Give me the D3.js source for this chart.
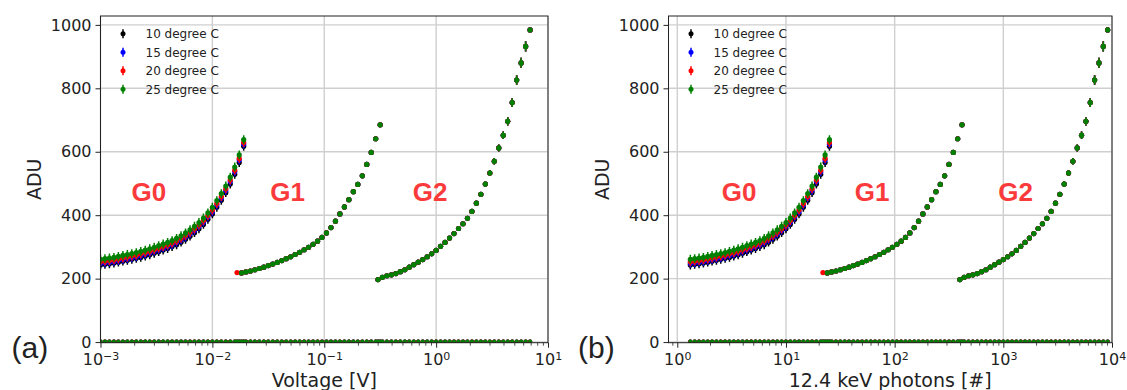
<!DOCTYPE html>
<html>
<head>
<meta charset="utf-8">
<script src="https://cdn.jsdelivr.net/npm/d3@7"></script>
<style>
  html, body { margin: 0; padding: 0; background: #fff; }
  svg { display: block; font-family: "DejaVu Sans", sans-serif; }
</style>
</head>
<body>
<svg id="chart" width="1127" height="390"></svg>
<script>
// ---- data ----
const temperatures = ["10 degree C", "15 degree C", "20 degree C", "25 degree C"];
const gains = ["G0", "G1", "G2"];

const yTicks = [0, 200, 400, 600, 800, 1000];
const voltTicks = [1e-3, 1e-2, 1e-1, 1, 10];
const photonTicks = [1, 10, 100, 1000, 10000];

// G0
const g0Volt = [0.001000, 0.001096, 0.001202, 0.001318, 0.001445, 0.001585, 0.001738, 0.001905, 0.002089, 0.002291,
  0.002512, 0.002754, 0.003020, 0.003311, 0.003631, 0.003981, 0.004365, 0.004786, 0.005248, 0.005754,
  0.006310, 0.006918, 0.007586, 0.008318, 0.009120, 0.01000, 0.01096, 0.01202, 0.01318, 0.01445,
  0.01585, 0.01738, 0.01905];
const g0Photons = [1.318, 1.445, 1.585, 1.738, 1.905, 2.089, 2.291, 2.512, 2.754, 3.020,
  3.311, 3.631, 3.981, 4.365, 4.786, 5.248, 5.754, 6.310, 6.918, 7.586,
  8.318, 9.120, 10.00, 10.96, 12.02, 13.18, 14.45, 15.85, 17.38, 19.05,
  20.89, 22.91, 25.12];
const g0Adu10 = [243, 245, 247, 249, 252, 255, 258, 261, 264, 267, 271, 275, 280, 285, 290, 295, 301,
  307, 315, 324, 334, 345, 357, 371, 387, 404, 425, 447, 471, 498, 529, 566, 617];
const g0Adu15 = [248, 250, 252, 254, 257, 260, 263, 266, 269, 273, 277, 281, 286, 291, 296, 301, 307,
  314, 322, 331, 341, 352, 364, 378, 394, 411, 432, 454, 478, 506, 537, 574, 624];
const g0Adu20 = [253, 255, 257, 259, 262, 265, 268, 271, 274, 278, 282, 286, 291, 296, 301, 306, 312,
  319, 327, 336, 346, 357, 369, 383, 399, 416, 437, 459, 483, 511, 542, 579, 629];
const g0Adu25 = [261, 263, 265, 267, 270, 273, 276, 279, 282, 286, 290, 294, 299, 304, 309, 314, 320,
  327, 335, 344, 354, 365, 377, 391, 407, 425, 446, 468, 492, 520, 552, 590, 638];
const g0ErrAdu = 14;

// G1 (first point only measured at 20 degree C)
const g1Volt = [0.01660, 0.01820, 0.01995, 0.02188, 0.02399, 0.02630, 0.02884, 0.03162, 0.03467, 0.03802,
  0.04169, 0.04571, 0.05012, 0.05495, 0.06026, 0.06607, 0.07244, 0.07943, 0.08710, 0.09550,
  0.1047, 0.1148, 0.1259, 0.1380, 0.1514, 0.1660, 0.1820, 0.1995, 0.2188, 0.2399,
  0.2630, 0.2884, 0.3162];
const g1Photons = [21.88, 23.99, 26.30, 28.84, 31.62, 34.67, 38.02, 41.69, 45.71, 50.12,
  54.95, 60.26, 66.07, 72.44, 79.43, 87.10, 95.50, 104.7, 114.8, 125.9,
  138.0, 151.4, 166.0, 182.0, 199.5, 218.8, 239.9, 263.0, 288.4, 316.2,
  346.7, 380.2, 416.9];
const g1Adu = [219, 218, 221, 224, 228, 232, 236, 241, 246, 251, 257, 263, 269, 276, 283, 291, 299,
  308, 318, 330, 344, 361, 381, 404, 426, 449, 474, 497, 524, 560, 598, 641, 685];
const g1Start = [1, 1, 0, 1];
const g1ErrAdu = 3;

// G2
const g2Volt = [0.3020, 0.3311, 0.3631, 0.3981, 0.4365, 0.4786, 0.5248, 0.5754, 0.6310, 0.6918,
  0.7586, 0.8318, 0.9120, 1.000, 1.096, 1.202, 1.318, 1.445, 1.585, 1.738,
  1.905, 2.089, 2.291, 2.512, 2.754, 3.020, 3.311, 3.631, 3.981, 4.365,
  4.786, 5.248, 5.754, 6.310, 6.918];
const g2Photons = [398.1, 436.5, 478.6, 524.8, 575.4, 631.0, 691.8, 758.6, 831.8, 912.0,
  1000, 1096, 1202, 1318, 1445, 1585, 1738, 1905, 2089, 2291,
  2512, 2754, 3020, 3311, 3631, 3981, 4365, 4786, 5248, 5754,
  6310, 6918, 7586, 8318, 9120];
const g2Adu = [197, 204, 209, 212, 216, 222, 228, 236, 244, 252, 260, 269, 278, 289, 302, 314, 328,
  342, 358, 373, 390, 412, 438, 466, 498, 533, 570, 612, 652, 696, 755, 826, 880, 932, 984];
const g2ErrAdu = [2, 2, 2, 2, 2, 2, 2, 2, 2, 2, 2, 2, 2, 3, 3, 3, 3, 3, 4, 4,
  5, 5, 6, 7, 8, 9, 10, 11, 12, 13, 14, 15, 16, 16, 3];

// dark/offset points lying on the axis, one level per gain
const zeroAdu = [1.5, 1.5, 1.5];

// gain annotations
const gainLabelVolt = [0.0027, 0.047, 0.885];
const gainLabelPhotons = [3.7, 62, 1300];
const gainLabelAdu = 445;

const g0Adu = [g0Adu10, g0Adu15, g0Adu20, g0Adu25];

// ---- styling / layout ----
const tempColors = ["#000000", "#0000ff", "#ff0000", "#008000"];
const gridColor = "#cfcfcf";
const inkColor = "#222";
const plotTop = 16, plotBottom = 342.7;
const aduDomain = [-2, 1028];

const panels = [
  { left: 100.5, right: 548, xDomain: [1e-3, 10], xTicks: voltTicks,
    xs: [g0Volt, g1Volt, g2Volt], labelX: gainLabelVolt,
    xLabel: "Voltage [V]", tag: "(a)", tagX: 11.5 },
  { left: 668.5, right: 1112, xDomain: [0.83, 1e4], xTicks: photonTicks,
    xs: [g0Photons, g1Photons, g2Photons], labelX: gainLabelPhotons,
    xLabel: "12.4 keV photons [#]", tag: "(b)", tagX: 578 }
];

const svg = d3.select("#chart");

function seriesPoints(xs, ti) {
  const pts = [];
  xs[0].forEach((v, i) => pts.push({ x: v, adu: g0Adu[ti][i], err: g0ErrAdu }));
  xs[1].forEach((v, i) => { if (i >= g1Start[ti]) pts.push({ x: v, adu: g1Adu[i], err: g1ErrAdu }); });
  xs[2].forEach((v, i) => pts.push({ x: v, adu: g2Adu[i], err: g2ErrAdu[i] }));
  return pts;
}

function baselinePoints(xs) {
  return xs.flatMap((arr, gi) => arr.map(v => ({ x: v, adu: zeroAdu[gi], err: 2 })));
}

function supLabel(sel) {
  sel.each(function (d) {
    const t = d3.select(this);
    const e = Math.round(Math.log10(d));
    t.text(null);
    t.append("tspan").text("10");
    t.append("tspan").attr("dy", "-0.5em").attr("font-size", 11)
      .text(e < 0 ? "\u2212" + (-e) : String(e));
  });
}

panels.forEach((p, pi) => {
  const g = svg.append("g");
  const x = d3.scaleLog().domain(p.xDomain).range([p.left, p.right]);
  const y = d3.scaleLinear().domain(aduDomain).range([plotBottom, plotTop]);

  // grid
  g.append("g").selectAll("line").data(yTicks).join("line")
    .attr("x1", p.left).attr("x2", p.right)
    .attr("y1", d => y(d)).attr("y2", d => y(d))
    .attr("stroke", gridColor).attr("stroke-width", 1.4);
  g.append("g").selectAll("line").data(p.xTicks).join("line")
    .attr("x1", d => x(d)).attr("x2", d => x(d))
    .attr("y1", plotTop).attr("y2", plotBottom)
    .attr("stroke", gridColor).attr("stroke-width", 1.4);

  svg.append("clipPath").attr("id", "clip" + pi)
    .append("rect").attr("x", p.left).attr("y", plotTop)
    .attr("width", p.right - p.left).attr("height", plotBottom - plotTop);

  // data
  const dataG = g.append("g").attr("clip-path", `url(#clip${pi})`);
  temperatures.forEach((t, ti) => {
    const col = tempColors[ti];
    const pts = seriesPoints(p.xs, ti);
    const base = baselinePoints(p.xs);
    const sg = dataG.append("g");
    sg.append("g").selectAll("line").data(pts).join("line")
      .attr("x1", d => x(d.x)).attr("x2", d => x(d.x))
      .attr("y1", d => y(d.adu - d.err)).attr("y2", d => y(d.adu + d.err))
      .attr("stroke", col).attr("stroke-width", 1.5);
    sg.append("g").selectAll("circle").data(pts).join("circle")
      .attr("cx", d => x(d.x)).attr("cy", d => y(d.adu))
      .attr("r", 2.6).attr("fill", col);
    sg.append("g").selectAll("line").data(base).join("line")
      .attr("x1", d => x(d.x)).attr("x2", d => x(d.x))
      .attr("y1", d => y(d.adu - d.err)).attr("y2", d => y(d.adu + d.err))
      .attr("stroke", col).attr("stroke-width", 1.2);
    sg.append("g").selectAll("circle").data(base).join("circle")
      .attr("cx", d => x(d.x)).attr("cy", d => y(d.adu))
      .attr("r", 2.1).attr("fill", col);
  });

  // gain labels
  g.append("g").selectAll("text").data(gains).join("text")
    .attr("x", (d, i) => x(p.labelX[i])).attr("y", y(gainLabelAdu))
    .attr("text-anchor", "middle")
    .attr("font-family", "'Liberation Sans', Arial, sans-serif")
    .attr("font-weight", "bold").attr("font-size", 26)
    .attr("fill", "#fb3b3b").text(d => d);

  // legend
  const leg = g.append("g").selectAll("g").data(temperatures).join("g")
    .attr("transform", (d, i) => `translate(${p.left + 22.5},${33.7 + i * 18.5})`);
  leg.append("line").attr("y1", -4.5).attr("y2", 4.5)
    .attr("stroke", (d, i) => tempColors[i]).attr("stroke-width", 1.5);
  leg.append("circle").attr("r", 2.5).attr("fill", (d, i) => tempColors[i]);
  leg.append("text").attr("x", 22.5).attr("dy", "0.36em")
    .attr("font-size", 12).attr("fill", inkColor).text(d => d);

  // xAxis setup
  const minor = x.ticks().filter(v => Math.abs(Math.log10(v) - Math.round(Math.log10(v))) > 1e-6);
  const xMinor = g.append("g").attr("transform", `translate(0,${plotBottom})`)
    .call(d3.axisBottom(x).tickValues(minor).tickSize(3).tickFormat(""));
  xMinor.select(".domain").remove();
  xMinor.selectAll("line").attr("stroke", inkColor).attr("stroke-width", 0.8);

  const xAx = g.append("g").attr("transform", `translate(0,${plotBottom})`)
    .call(d3.axisBottom(x).tickValues(p.xTicks).tickSize(5).tickPadding(6).tickFormat(""));
  xAx.select(".domain").remove();
  xAx.selectAll("line").attr("stroke", inkColor).attr("stroke-width", 1);
  xAx.selectAll("text").attr("font-size", 16).attr("font-family", "DejaVu Sans")
    .attr("fill", inkColor).call(supLabel);

  // yAxis setup
  const yAx = g.append("g").attr("transform", `translate(${p.left},0)`)
    .call(d3.axisLeft(y).tickValues(yTicks).tickSize(5).tickPadding(4).tickFormat(d3.format("d")));
  yAx.select(".domain").remove();
  yAx.selectAll("line").attr("stroke", inkColor).attr("stroke-width", 1);
  yAx.selectAll("text").attr("font-size", 16).attr("font-family", "DejaVu Sans").attr("fill", inkColor);

  // frame
  g.append("rect").attr("x", p.left).attr("y", plotTop)
    .attr("width", p.right - p.left).attr("height", plotBottom - plotTop)
    .attr("fill", "none").attr("stroke", inkColor).attr("stroke-width", 1);

  // titles
  g.append("text").attr("x", (p.left + p.right) / 2).attr("y", 387)
    .attr("text-anchor", "middle").attr("font-size", 19).attr("fill", inkColor)
    .text(p.xLabel);
  g.append("text")
    .attr("transform", `translate(${p.left - 60},${(plotTop + plotBottom) / 2}) rotate(-90)`)
    .attr("text-anchor", "middle").attr("font-size", 19).attr("fill", inkColor)
    .text("ADU");
  g.append("text").attr("x", p.tagX).attr("y", 358)
    .attr("font-family", "'Liberation Sans', Arial, sans-serif")
    .attr("font-size", 30).attr("fill", inkColor).text(p.tag);
});
</script>
</body>
</html>
